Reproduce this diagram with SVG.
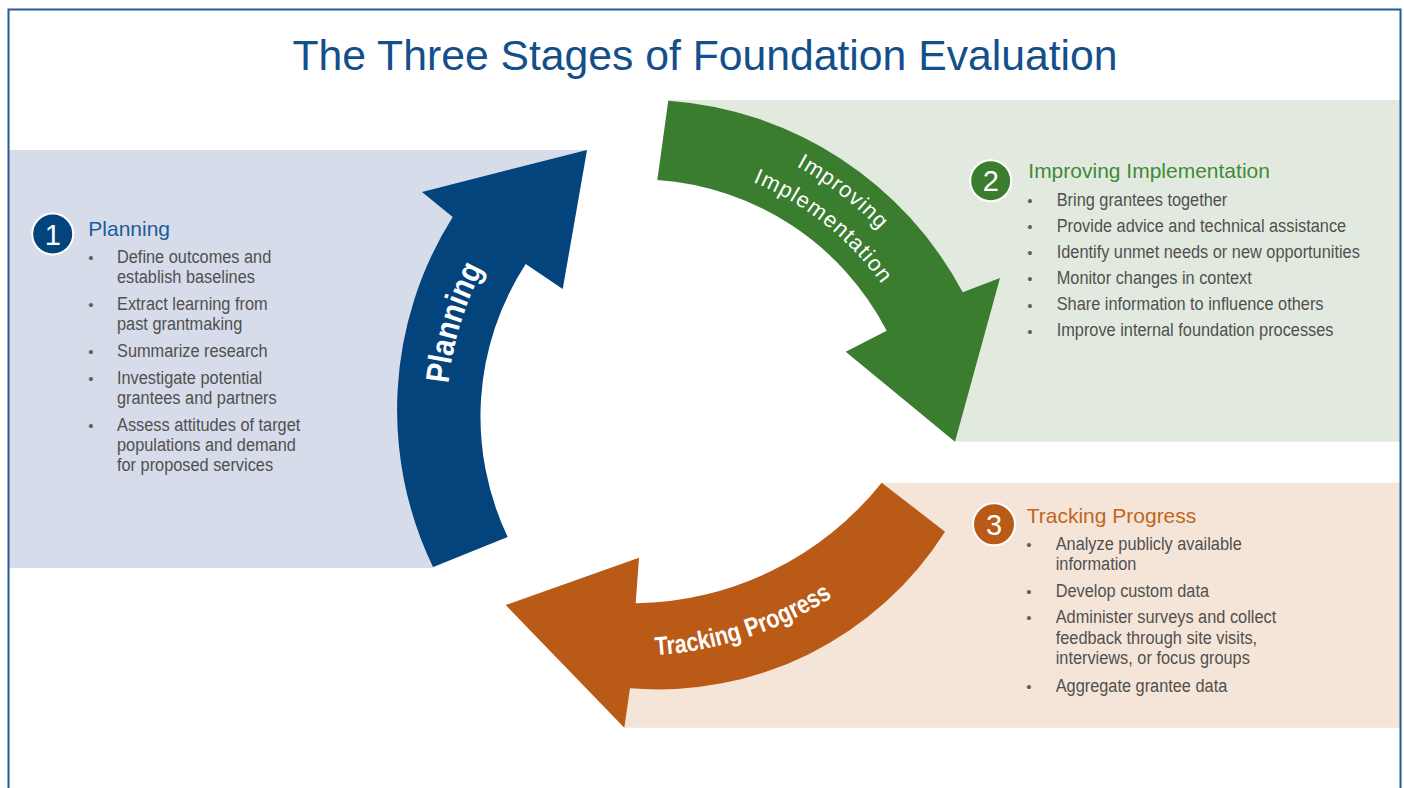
<svg xmlns="http://www.w3.org/2000/svg" width="1404" height="788" viewBox="0 0 1404 788">
<style>
.title{font-family:"Liberation Sans",Arial,sans-serif;font-size:42.7px;fill:#134f8a}
.head{font-family:"Liberation Sans",Arial,sans-serif;font-size:21px}
.item{font-family:"Liberation Sans",Arial,sans-serif;font-size:19px;fill:#505050}
.bul{font-family:"Liberation Sans",Arial,sans-serif;font-size:15px;fill:#606060;text-anchor:middle}
.num{font-family:"Liberation Sans",Arial,sans-serif;font-size:29px;fill:#fff;text-anchor:middle}
.lbl{font-family:"Liberation Sans",Arial,sans-serif;fill:#fff}
.badge{stroke:#fff;stroke-width:2}
</style>
<defs>
<path id="tp1" d="M483.2,562.2 A312,312 0 0 1 612.2,140.2"/>
<path id="tp2a" d="M594.5,129.1 A333,333 0 0 1 968.1,415.7"/>
<path id="tp2b" d="M604,161.1 A300,300 0 0 1 936.1,425.2"/>
<path id="tp3" d="M462.2,615.9 A374,374 0 0 0 964.6,450.7"/>
</defs>
<rect x="0" y="0" width="1404" height="788" fill="#fff"/>
<g id="bands">
<path d="M9,150 L587,150 L562.7,289 L513.6,210 A320,320 0 0 0 470.4,552 L433,568 L9,568 Z" fill="#d6dce9"/>
<path d="M668.3,100 L1401,100 L1401,441.7 L955,441.7 L948.1,376.1 A321,321 0 0 0 662.8,140.4 Z" fill="#e2eadf"/>
<path d="M881.7,482.7 L1401,482.7 L1401,727.7 L624.3,727.7 L610,645 A360,360 0 0 0 913.4,507.2 Z" fill="#f5e5d8"/>
</g>
<rect x="8.5" y="9.5" width="1392" height="800" fill="none" stroke="#275a8e" stroke-width="2"/>
<text class="title" x="705" y="70" text-anchor="middle">The Three Stages of Foundation Evaluation</text>
<g id="connectors">
<path id="arrow-planning" d="M433,567 A362,362 0 0 1 452.7,217 L422,192 L587,150 L562.7,289 L525.7,264 A280,280 0 0 0 507.7,537 Z" fill="#03447c"/>
<path id="arrow-improving" d="M668.3,100.7 A362,362 0 0 1 962.7,292.3 L1000,278 L955,441.7 L845.7,351.7 L886.7,330.7 A280,280 0 0 0 657.3,180 Z" fill="#3a7d2f"/>
<path id="arrow-tracking" d="M881.7,482.7 L945,531.7 A340,340 0 0 1 630,688.3 L624.3,727.7 L505.7,605 L639,557.7 L635.7,603.3 A321,321 0 0 0 881.7,482.7 Z" fill="#b95a17"/>
<text class="lbl" font-size="33" font-weight="bold"><textPath href="#tp1" startOffset="50%" text-anchor="middle" textLength="121" lengthAdjust="spacingAndGlyphs">Planning</textPath></text>
<text class="lbl" font-size="22" letter-spacing="1"><textPath href="#tp2a" startOffset="50%" text-anchor="middle">Improving</textPath></text>
<text class="lbl" font-size="22" letter-spacing="1.2"><textPath href="#tp2b" startOffset="50%" text-anchor="middle">Implementation</textPath></text>
<text class="lbl" font-size="26" font-weight="bold"><textPath href="#tp3" startOffset="50%" text-anchor="middle" textLength="188" lengthAdjust="spacingAndGlyphs">Tracking Progress</textPath></text>
</g>
<g id="stage1">
<circle class="badge" cx="52.7" cy="234" r="20.5" fill="#03447c"/>
<text class="num" x="52.7" y="244.5">1</text>
<text class="head" x="88.3" y="236" fill="#1d5c99">Planning</text>
<text class="bul" x="91" y="263.3">•</text>
<text class="bul" x="91" y="310">•</text>
<text class="bul" x="91" y="357.3">•</text>
<text class="bul" x="91" y="384">•</text>
<text class="bul" x="91" y="430.7">•</text>
<g transform="translate(117 0) scale(0.86 1)">
<text class="item" x="0" y="263.3">Define outcomes and</text>
<text class="item" x="0" y="283.3">establish baselines</text>
<text class="item" x="0" y="310">Extract learning from</text>
<text class="item" x="0" y="330">past grantmaking</text>
<text class="item" x="0" y="357.3">Summarize research</text>
<text class="item" x="0" y="384">Investigate potential</text>
<text class="item" x="0" y="404">grantees and partners</text>
<text class="item" x="0" y="430.7">Assess attitudes of target</text>
<text class="item" x="0" y="450.7">populations and demand</text>
<text class="item" x="0" y="470.7">for proposed services</text>
</g>
</g>
<g id="stage2">
<circle class="badge" cx="990.7" cy="180.7" r="20.5" fill="#3a7d2f"/>
<text class="num" x="990.7" y="191.2">2</text>
<text class="head" x="1028.3" y="178.3" fill="#3f8a37">Improving Implementation</text>
<text class="bul" x="1030" y="206">•</text>
<text class="bul" x="1030" y="232">•</text>
<text class="bul" x="1030" y="258">•</text>
<text class="bul" x="1030" y="284">•</text>
<text class="bul" x="1030" y="310.5">•</text>
<text class="bul" x="1030" y="336.5">•</text>
<g transform="translate(1056.7 0) scale(0.86 1)">
<text class="item" x="0" y="206">Bring grantees together</text>
<text class="item" x="0" y="232">Provide advice and technical assistance</text>
<text class="item" x="0" y="258">Identify unmet needs or new opportunities</text>
<text class="item" x="0" y="284">Monitor changes in context</text>
<text class="item" x="0" y="310.5">Share information to influence others</text>
<text class="item" x="0" y="336.5">Improve internal foundation processes</text>
</g>
</g>
<g id="stage3">
<circle class="badge" cx="994" cy="524.3" r="21" fill="#b95a17"/>
<text class="num" x="994" y="534.8">3</text>
<text class="head" x="1026.7" y="522.7" fill="#c0651e">Tracking Progress</text>
<text class="bul" x="1029" y="550">•</text>
<text class="bul" x="1029" y="597">•</text>
<text class="bul" x="1029" y="623.3">•</text>
<text class="bul" x="1029" y="691.7">•</text>
<g transform="translate(1055.7 0) scale(0.86 1)">
<text class="item" x="0" y="550">Analyze publicly available</text>
<text class="item" x="0" y="570">information</text>
<text class="item" x="0" y="597">Develop custom data</text>
<text class="item" x="0" y="623.3">Administer surveys and collect</text>
<text class="item" x="0" y="644">feedback through site visits,</text>
<text class="item" x="0" y="664.3">interviews, or focus groups</text>
<text class="item" x="0" y="691.7">Aggregate grantee data</text>
</g>
</g>
</svg>
